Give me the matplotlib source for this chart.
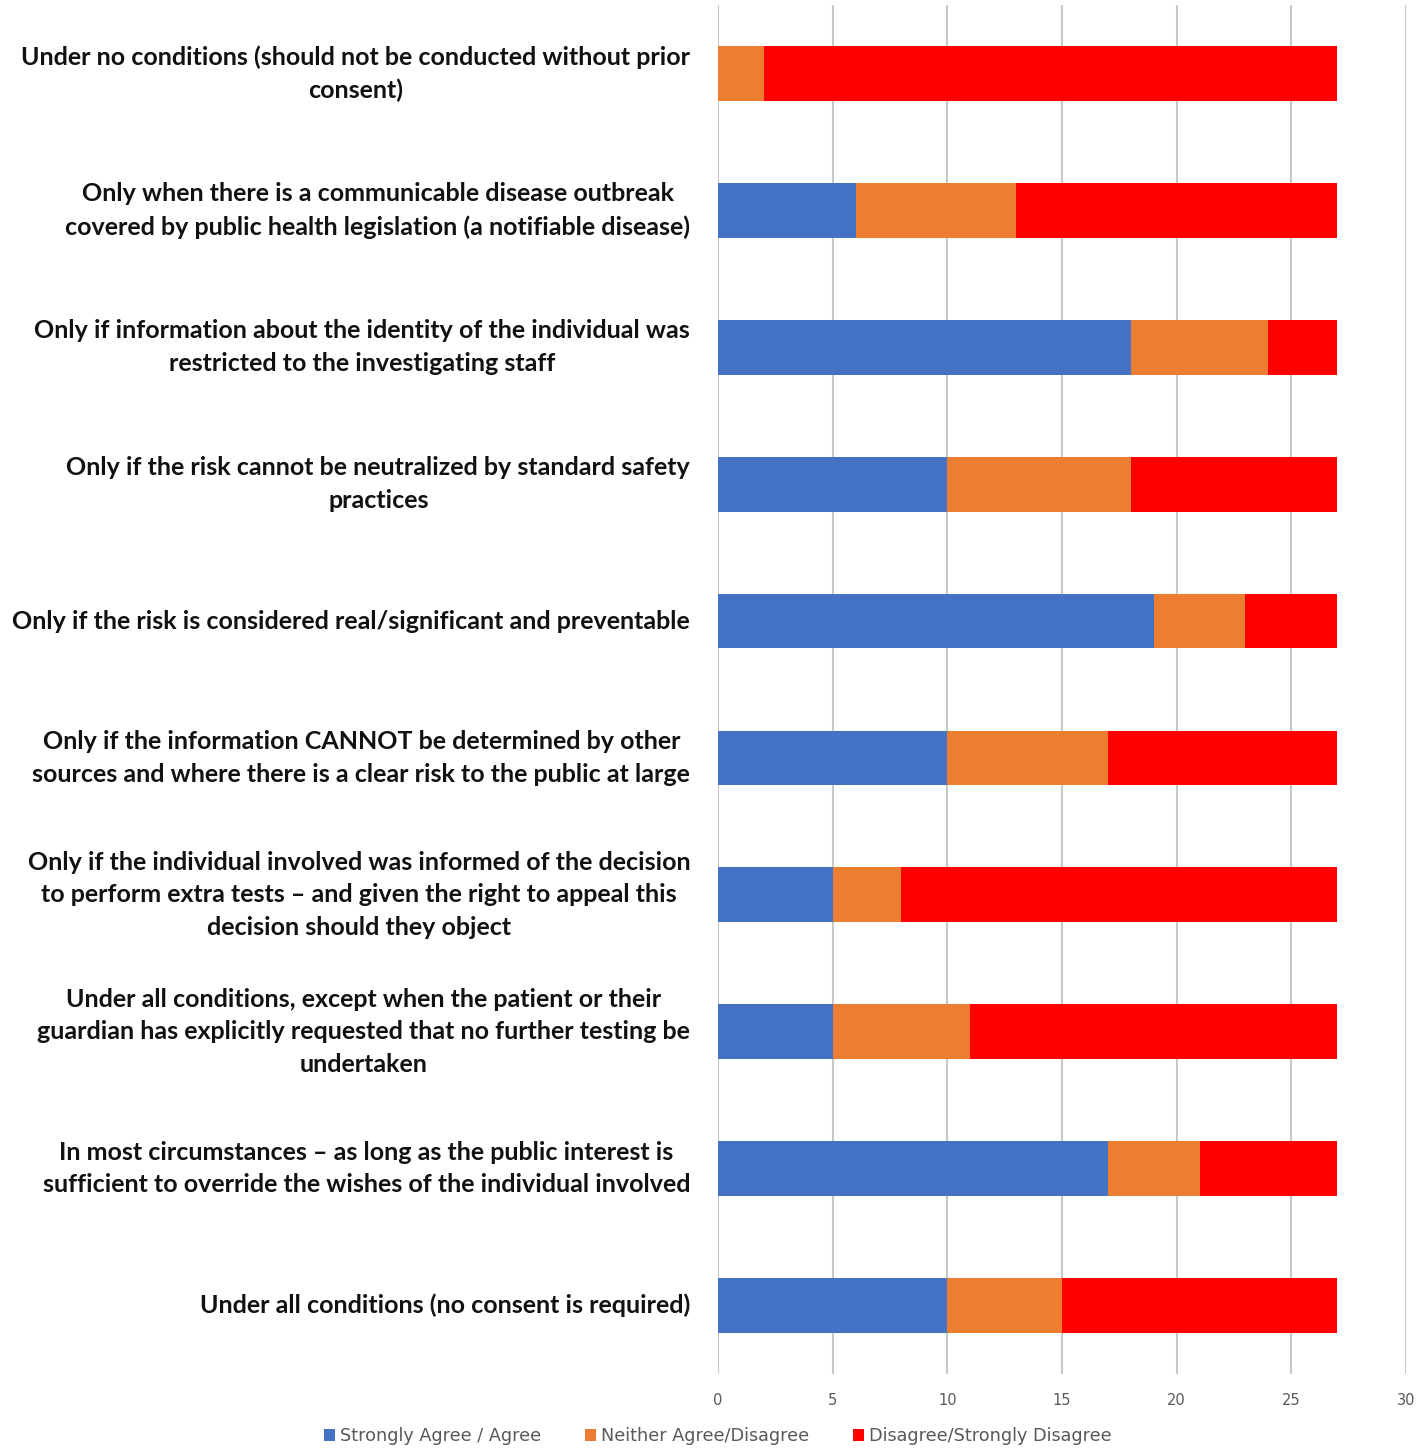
import numpy as np
import matplotlib.pyplot as plt

categories = [
    "Under no conditions (should not be conducted without prior\nconsent)",
    "Only when there is a communicable disease outbreak\ncovered by public health legislation (a notifiable disease)",
    "Only if information about the identity of the individual was\nrestricted to the investigating staff",
    "Only if the risk cannot be neutralized by standard safety\npractices",
    "Only if the risk is considered real/significant and preventable",
    "Only if the information CANNOT be determined by other\nsources and where there is a clear risk to the public at large",
    "Only if the individual involved was informed of the decision\nto perform extra tests \u2013 and given the right to appeal this\ndecision should they object",
    "Under all conditions, except when the patient or their\nguardian has explicitly requested that no further testing be\nundertaken",
    "In most circumstances \u2013 as long as the public interest is\nsufficient to override the wishes of the individual involved",
    "Under all conditions (no consent is required)",
]
agree = [0, 6, 18, 10, 19, 10, 5, 5, 17, 10]
neither = [2, 7, 6, 8, 4, 7, 3, 6, 4, 5]
disagree = [25, 14, 3, 9, 4, 10, 19, 16, 6, 12]
series_names = ["Strongly Agree / Agree", "Neither Agree/Disagree", "Disagree/Strongly Disagree"]
colors = ["#4472C4", "#ED7D31", "#FF0000"]

fig = plt.figure(figsize=(14.18, 14.51), dpi=100)
ax = fig.add_axes([718 / 1418, 1 - 1374 / 1451, (1406 - 718) / 1418, (1374 - 5) / 1451])

y = np.arange(len(categories))
left = np.zeros(len(categories))
for vals, name, c in zip([agree, neither, disagree], series_names, colors):
    ax.barh(y, vals, left=left, height=0.4, color=c, label=name, zorder=3)
    left += np.array(vals)

ax.set_ylim(len(categories) - 0.5, -0.5)
ax.set_xlim(0, 30)
ax.set_xticks(range(0, 31, 5))
ax.grid(axis="x", color="#C8C8C8", linewidth=1.5, zorder=0)
for s in ax.spines.values():
    s.set_visible(False)
ax.tick_params(axis="x", length=0, labelsize=10.5, labelcolor="#595959", pad=14)
ax.tick_params(axis="y", length=0, pad=20)
ax.set_yticks(y)
ax.set_yticklabels(categories, fontsize=18, family="Lato", fontweight="bold",
                   color="#111111", ha="right", va="center",
                   multialignment="center", linespacing=1.5)

fig.legend(*ax.get_legend_handles_labels(), loc="center",
           bbox_to_anchor=(0.506, 1 - 1436 / 1451), ncol=3, frameon=False,
           fontsize=12.7, handlelength=0.65, handleheight=0.65, columnspacing=2.5,
           handletextpad=0.25, labelcolor="#595959")

fig.savefig("out.png", dpi=100)
